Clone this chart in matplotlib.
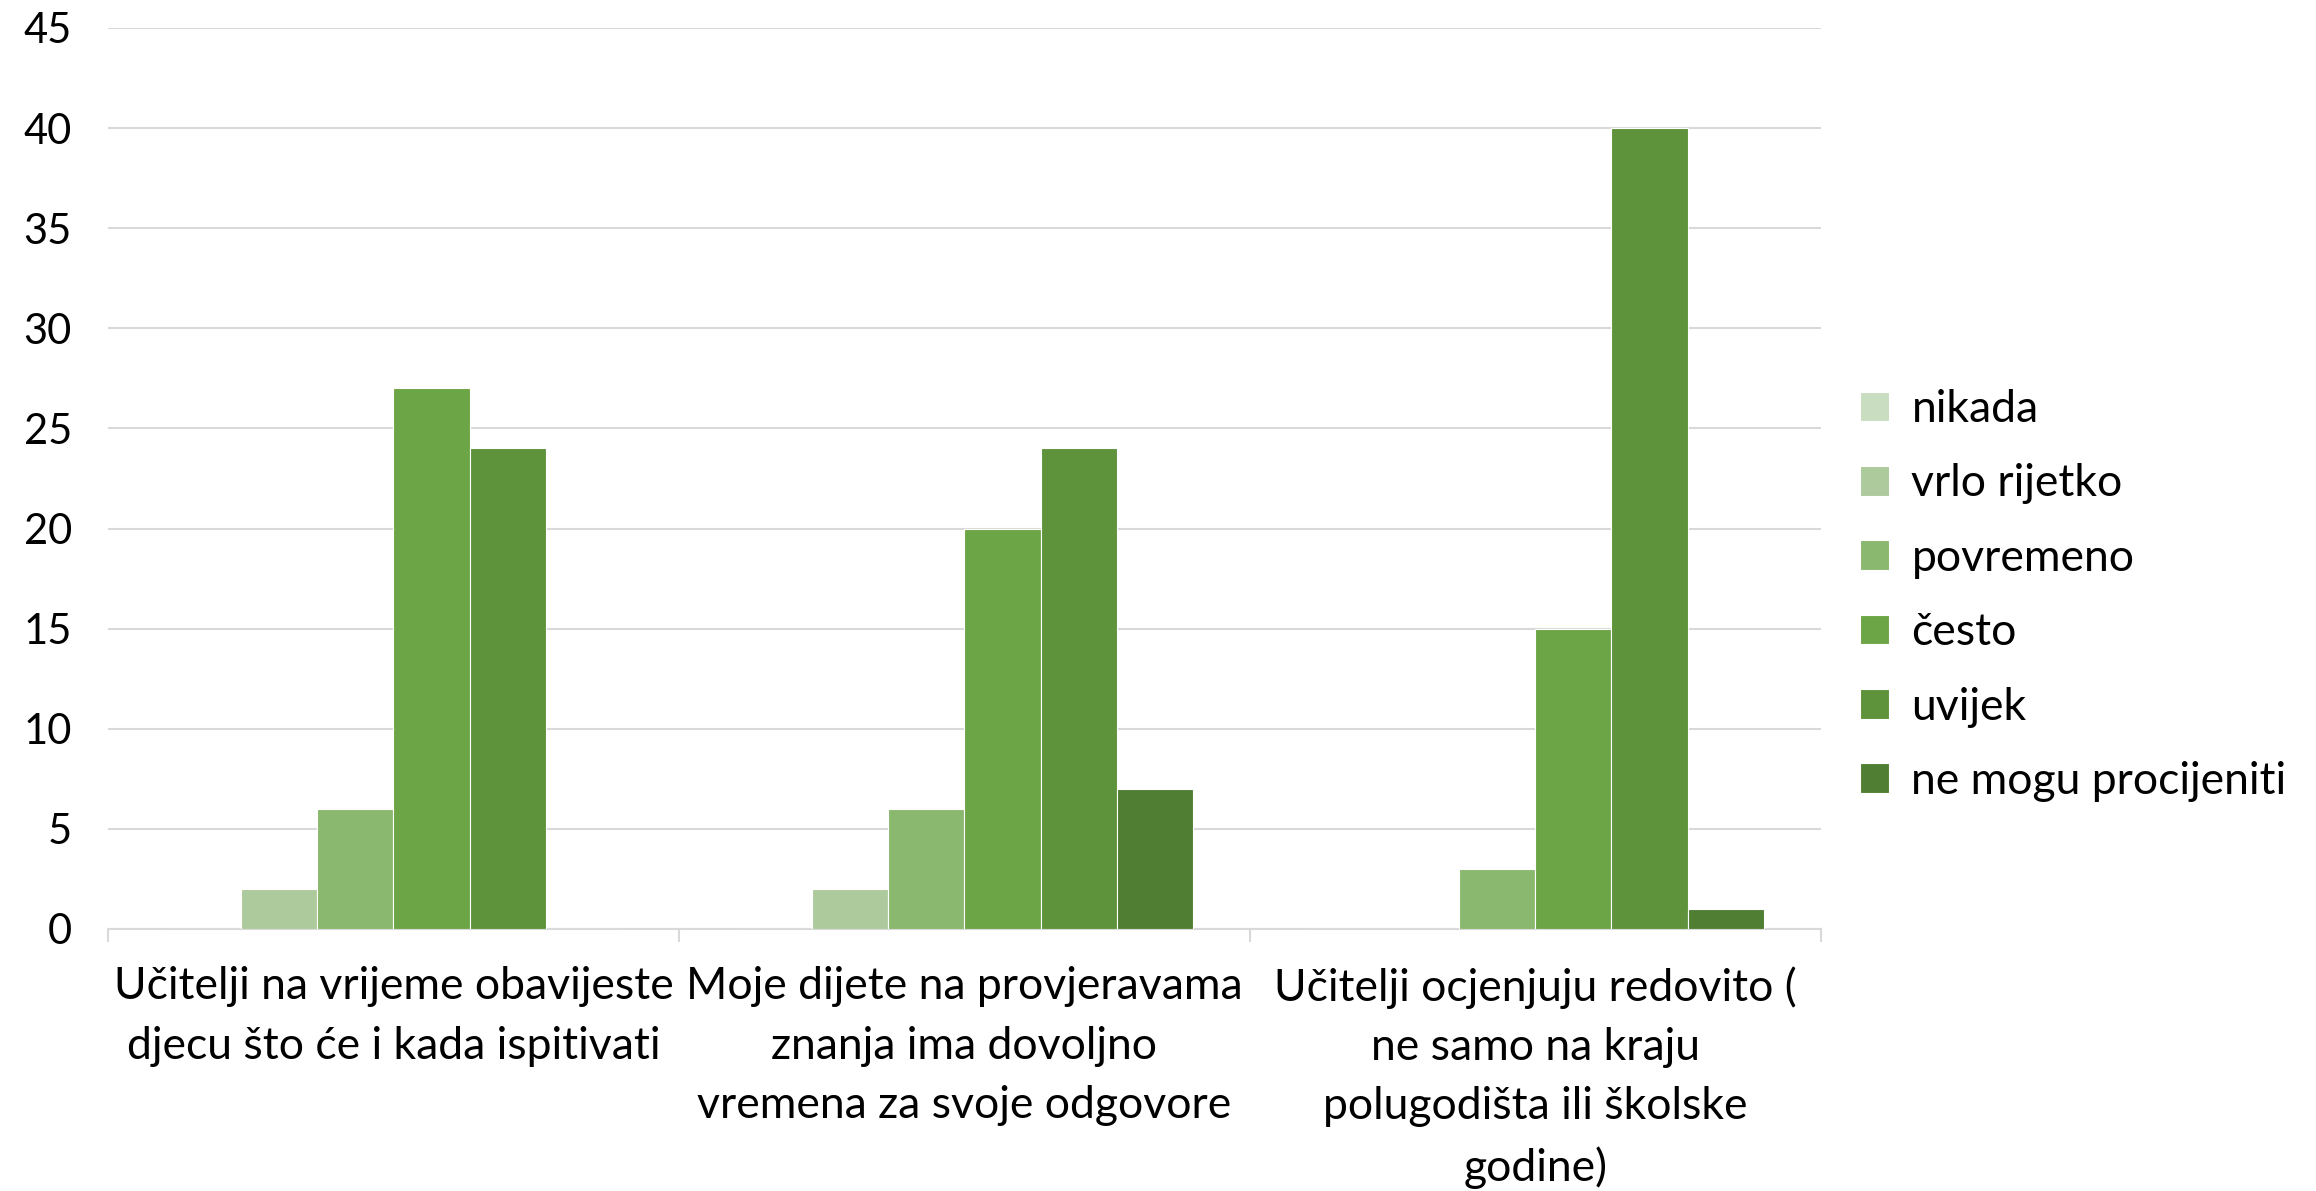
import numpy as np
import matplotlib
matplotlib.use("Agg")
import matplotlib.pyplot as plt

plt.rcParams["font.family"] = ["Lato", "DejaVu Sans"]

CATEGORIES = [
    "Učitelji na vrijeme obavijeste\ndjecu što će i kada ispitivati",
    "Moje dijete na provjeravama\nznanja ima dovoljno\nvremena za svoje odgovore",
    "Učitelji ocjenjuju redovito (\nne samo na kraju\npolugodišta ili školske\ngodine)",
]
SERIES = ["nikada", "vrlo rijetko", "povremeno", "često", "uvijek", "ne mogu procijeniti"]
VALUES = {
    "nikada": [0, 0, 0],
    "vrlo rijetko": [2, 2, 0],
    "povremeno": [6, 6, 3],
    "često": [27, 20, 15],
    "uvijek": [24, 24, 40],
    "ne mogu procijeniti": [0, 7, 1],
}
COLORS = ["#C9DDC0", "#ADCA9C", "#8AB86E", "#6CA545", "#5F933B", "#507F33"]

GRID = "#D9D9D9"
FS = 32

fig = plt.figure(figsize=(23.16, 11.91), dpi=100)
ax = fig.add_axes([0.0466, 0.22, 0.7396, 0.7565])

x = np.arange(len(CATEGORIES))
w = 1 / 7.5
handles = []
for i, (s, c) in enumerate(zip(SERIES, COLORS)):
    b = ax.bar(x + (i - 2.5) * w, VALUES[s], width=w, color=c,
               edgecolor="white", linewidth=0.8, label=s, zorder=3)
    handles.append(b)

ax.set_xlim(-0.5, 2.5)
ax.set_ylim(0, 45)
ax.set_yticks(range(0, 46, 5))
ax.tick_params(axis="y", length=0, labelsize=30, pad=26)
ax.yaxis.grid(True, color=GRID, lw=1.5, zorder=0)
ax.set_axisbelow(True)

# category boundaries as major ticks, labels at centers as minor ticks
ax.set_xticks([-0.5, 0.5, 1.5, 2.5])
ax.set_xticklabels([])
ax.tick_params(axis="x", which="major", length=9, width=1.5, color=GRID, direction="out")
ax.set_xticks(x, minor=True)
ax.set_xticklabels(CATEGORIES, minor=True, fontsize=FS, linespacing=1.55)
ax.tick_params(axis="x", which="minor", length=0, pad=27)

for s in ("top", "right", "left"):
    ax.spines[s].set_visible(False)
ax.spines["bottom"].set_color(GRID)
ax.spines["bottom"].set_linewidth(1.5)

fig.legend(handles, SERIES, loc="center left", bbox_to_anchor=(0.786, 0.5),
           frameon=False, fontsize=FS, handlelength=0.65, handleheight=0.65,
           handletextpad=0.5, labelspacing=0.75)

fig.savefig("out.png", dpi=100)
